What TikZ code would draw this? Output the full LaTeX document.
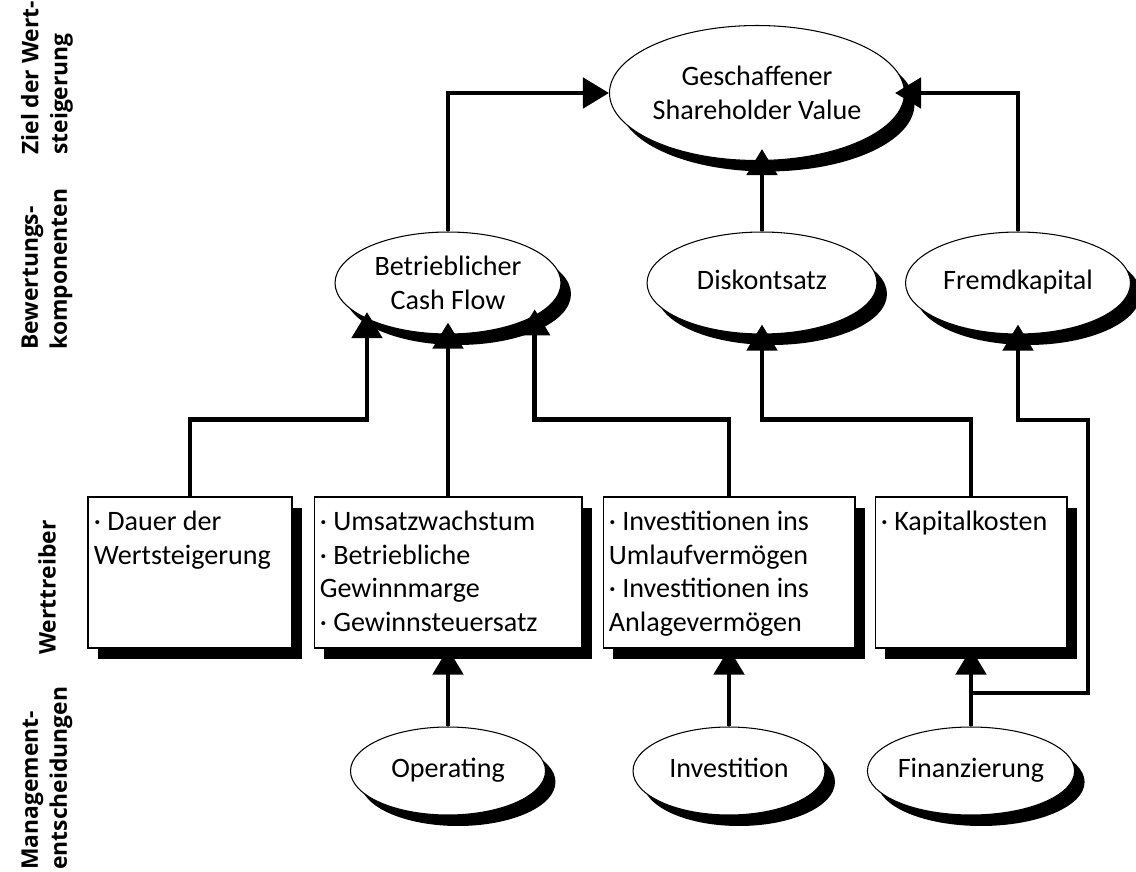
\documentclass[tikz,border=0pt]{standalone}
\usepackage{fontspec}
\setmainfont{Carlito}
\newfontfamily\lblfont{Open Sans}
\usetikzlibrary{shapes.geometric,shadows,arrows.meta}

\newcommand\txtsize{\fontsize{16}{19.2}\selectfont}

\tikzset{
  shad/.style={drop shadow={shadow xshift=0.2cm, shadow yshift=-0.22cm, fill=black, opacity=1}},
  ell/.style={ellipse, draw, line width=0.6pt, fill=white, shad, inner sep=0pt, align=center, font=\txtsize},
  oneline/.style={text height=2ex, text depth=0.5ex},
  box/.style={rectangle, draw, line width=0.6pt, fill=white, shad, inner sep=0pt},
  boxtext/.style={anchor=north west, inner sep=0pt, align=left, font=\txtsize},
  conn/.style={line width=2.8pt, -{Triangle[length=0.52cm, width=0.6cm]}},
  lbl/.style={rotate=90, anchor=west, align=left, inner sep=0pt, font=\lblfont\bfseries\fontsize{13}{16.5}\selectfont},
}

\begin{document}
\begin{tikzpicture}[x=0.02cm, y=-0.02cm]
  \useasboundingbox (0,0) rectangle (1136,872);

  % row labels
  \node[lbl] (l1) at (47,155) {Ziel der Wert-\\steigerung};
  \node[lbl] (l2) at (47,350) {Bewertungs-\\komponenten};
  \node[lbl] (l3) at (47,655) {Werttreiber};
  \node[lbl] (l4) at (47,870) {Management-\\entscheidungen};

  % ellipses
  \node[ell, minimum width=5.8cm, minimum height=2.7cm] (sv) at (757,93) {Geschaffener\\Shareholder Value};
  \node[ell, minimum width=4.52cm, minimum height=2.04cm] (cf) at (448,283) {Betrieblicher\\Cash Flow};
  \node[ell, oneline, minimum width=4.6cm, minimum height=2.04cm] (dk) at (762,283) {Diskontsatz};
  \node[ell, oneline, minimum width=4.5cm, minimum height=2.04cm] (fk) at (1018,283) {Fremdkapital};
  \node[ell, oneline, minimum width=3.9cm, minimum height=1.76cm] (op) at (448,771) {Operating};
  \node[ell, oneline, minimum width=3.84cm, minimum height=1.76cm] (inv) at (729,771) {Investition};
  \node[ell, oneline, minimum width=3.84cm, minimum height=1.76cm] (fin) at (971,771) {Finanzierung};

  % boxes
  \node[box, minimum width=4.08cm, minimum height=3.02cm] (b1) at (190,572.5) {};
  \node[box, minimum width=5.36cm, minimum height=3.02cm] (b2) at (448,572.5) {};
  \node[box, minimum width=5.04cm, minimum height=3.02cm] (b3) at (729,572.5) {};
  \node[box, minimum width=3.84cm, minimum height=3.02cm] (b4) at (971,572.5) {};
  \node[boxtext] (t1) at ([shift={(6,14)}]b1.north west) {· Dauer der\\Wertsteigerung};
  \node[boxtext] (t2) at ([shift={(6,14)}]b2.north west) {· Umsatzwachstum\\· Betriebliche\\Gewinnmarge\\· Gewinnsteuersatz};
  \node[boxtext] (t3) at ([shift={(6,14)}]b3.north west) {· Investitionen ins\\Umlaufvermögen\\· Investitionen ins\\Anlagevermögen};
  \node[boxtext] (t4) at ([shift={(6,14)}]b4.north west) {· Kapitalkosten};

  % connectors
  \draw[conn] (cf.north) |- (sv.west);
  \draw[conn, shorten >=-0.24cm] (dk.north) -- (dk.north |- sv.south);
  \draw[conn, shorten >=-0.2cm] (fk.north) |- (sv.east);
  \draw[conn, shorten >=-0.14cm] (b1.north) -- ++(0,-77) -| (cf.204.5);
  \draw[conn, shorten >=-0.24cm] (b2.north) -- (cf.south);
  \draw[conn, shorten >=-0.14cm] (b3.north) -- ++(0,-77) -| (cf.339.8);
  \draw[conn, shorten >=-0.2cm] (b4.north) -- ++(0,-77) -| (dk.south);
  \draw[conn] (op.north) -- (b2.south);
  \draw[conn] (inv.north) -- (b3.south);
  \draw[conn] (fin.north) -- (b4.south);
  \coordinate (jn) at (971,693);
  \draw[conn, shorten >=-0.2cm] (jn) -| (1088,420) -| (fk.south);
\end{tikzpicture}
\end{document}
